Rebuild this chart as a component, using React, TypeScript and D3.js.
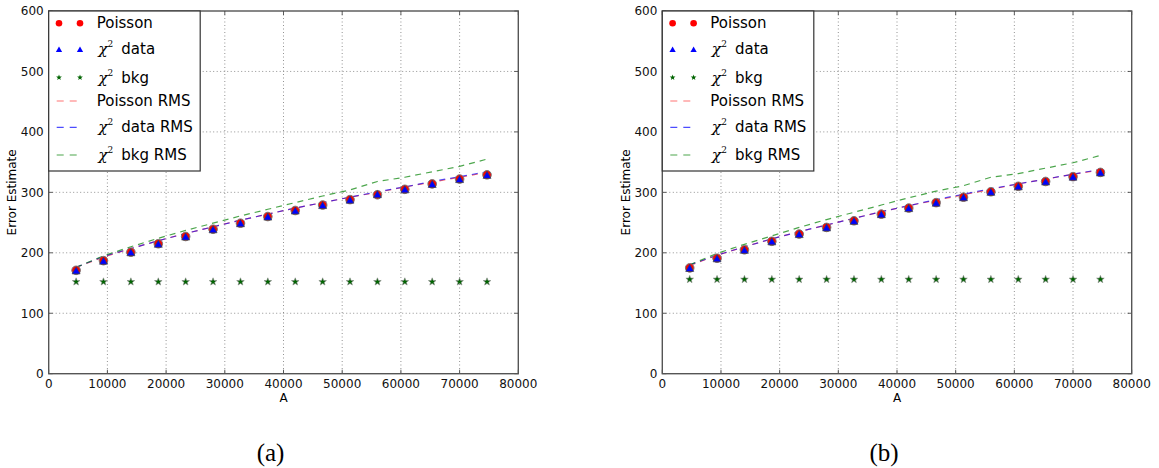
import React from "react";
import * as d3 from "d3";

// ---- data ----
const amplitudes = [4670, 9330, 14000, 18670, 23330, 28000, 32670, 37330, 42000, 46670, 51330, 56000, 60670, 65330, 70000, 74670];

const poissonA = [171, 187, 201, 215, 227, 239, 249, 260, 270, 279, 288, 296, 305, 314, 322, 329];
const chi2DataA = [170, 186, 200, 214, 226, 238, 248, 259, 269, 278, 287, 296, 304, 313, 321, 328];
const chi2BkgA = [152, 152, 152, 152, 152, 152, 152, 152, 152, 152, 152, 152, 152, 152, 152, 152];
const poissonRmsA = [176, 193, 207, 220, 232, 243, 254, 264, 274, 283, 292, 300, 309, 317, 325, 333];
const chi2DataRmsA = [176, 194, 207, 220, 232, 243, 254, 264, 274, 283, 292, 301, 309, 318, 326, 334];
const chi2BkgRmsA = [176, 195, 210, 224, 237, 249, 261, 272, 283, 294, 304, 318, 325, 334, 343, 355];

const poissonB = [175, 191, 205, 219, 231, 242, 253, 264, 274, 283, 292, 301, 310, 318, 326, 333];
const chi2DataB = [174, 190, 204, 218, 230, 241, 252, 263, 273, 282, 291, 300, 309, 317, 325, 332];
const chi2BkgB = [156, 156, 156, 156, 156, 156, 156, 156, 156, 156, 156, 156, 156, 156, 156, 156];
const poissonRmsB = [179, 196, 210, 223, 235, 246, 257, 268, 278, 287, 296, 305, 314, 322, 330, 337];
const chi2DataRmsB = [180, 196, 210, 223, 235, 246, 257, 268, 278, 288, 297, 306, 314, 322, 330, 338];
const chi2BkgRmsB = [180, 199, 214, 228, 242, 255, 267, 279, 291, 302, 311, 325, 331, 340, 349, 361];

const xTicks = [0, 10000, 20000, 30000, 40000, 50000, 60000, 70000, 80000];
const yTicks = [0, 100, 200, 300, 400, 500, 600];
const xLabel = "A";
const yLabel = "Error Estimate";
const captions = ["(a)", "(b)"];

const SANS = "'DejaVu Sans', sans-serif";
const SERIF = "'DejaVu Serif', serif";
const LFS = 15;

type PanelData = {
  poisson: number[];
  chi2Data: number[];
  chi2Bkg: number[];
  poissonRms: number[];
  chi2DataRms: number[];
  chi2BkgRms: number[];
};

const starPath = (cx: number, cy: number, R: number) => {
  const r = R * 0.42;
  const pts: string[] = [];
  for (let i = 0; i < 10; i++) {
    const ang = -Math.PI / 2 + (i * Math.PI) / 5;
    const rad = i % 2 === 0 ? R : r;
    pts.push(`${cx + rad * Math.cos(ang)},${cy + rad * Math.sin(ang)}`);
  }
  return "M" + pts.join("L") + "Z";
};

const triPath = (cx: number, cy: number, s: number) =>
  `M${cx},${cy - s}L${cx + s * 0.95},${cy + s * 0.7}L${cx - s * 0.95},${cy + s * 0.7}Z`;

const Chi2Label: React.FC<{ x: number; y: number; rest: string }> = ({ x, y, rest }) => (
  <text x={x} y={y} fontSize={LFS} fontFamily={SANS} fill="#000">
    <tspan fontFamily={SERIF} fontStyle="italic" fontSize={15.5}>χ</tspan>
    <tspan fontFamily={SERIF} fontSize={9} dy={-7}>2</tspan>
    <tspan dy={7} dx={8}>{rest}</tspan>
  </text>
);

const Panel: React.FC<{ left: number; right: number; top: number; bottom: number; data: PanelData; caption: string }> = ({
  left, right, top, bottom, data, caption,
}) => {
  const x = d3.scaleLinear().domain([0, 80000]).range([left, right]);
  const y = d3.scaleLinear().domain([0, 600]).range([bottom, top]);
  const line = (vals: number[]) =>
    d3.line<number>().x((_, i) => x(amplitudes[i])).y((v) => y(v))(vals) || "";

  const lg = { x0: left, y0: top, w: 151.5, h: 160 };
  const rows = [23.3, 49.3, 77.5, 101, 127.3, 155].map((r) => r - 11 + top);
  const mx1 = left + 10.3, mx2 = left + 31.3, tx = left + 48;

  return (
    <g>
      {/* grid */}
      {xTicks.slice(1, -1).map((t) => (
        <line key={"gx" + t} x1={x(t)} x2={x(t)} y1={top} y2={bottom} stroke="#777" strokeWidth={0.8} strokeDasharray="1,2.5" />
      ))}
      {yTicks.slice(1, -1).map((t) => (
        <line key={"gy" + t} x1={left} x2={right} y1={y(t)} y2={y(t)} stroke="#777" strokeWidth={0.8} strokeDasharray="1,2.5" />
      ))}
      {/* ticks (inside) */}
      {xTicks.map((t) => (
        <g key={"tx" + t}>
          <line x1={x(t)} x2={x(t)} y1={bottom} y2={bottom - 4} stroke="#333" strokeWidth={0.8} />
          <line x1={x(t)} x2={x(t)} y1={top} y2={top + 4} stroke="#333" strokeWidth={0.8} />
          <text x={x(t)} y={bottom + 14} textAnchor="middle" fontSize={12} fontFamily={SANS} fill="#111">{t}</text>
        </g>
      ))}
      {yTicks.map((t) => (
        <g key={"ty" + t}>
          <line x1={left} x2={left + 4} y1={y(t)} y2={y(t)} stroke="#333" strokeWidth={0.8} />
          <line x1={right} x2={right - 4} y1={y(t)} y2={y(t)} stroke="#333" strokeWidth={0.8} />
          <text x={left - 5} y={y(t) + 4.3} textAnchor="end" fontSize={12} fontFamily={SANS} fill="#111">{t}</text>
        </g>
      ))}
      {/* RMS lines */}
      <path d={line(data.poissonRms)} fill="none" stroke="#ff0000" strokeOpacity={0.6} strokeWidth={1.2} strokeDasharray="6,5" />
      <path d={line(data.chi2DataRms)} fill="none" stroke="#0000ff" strokeOpacity={0.65} strokeWidth={1.2} strokeDasharray="6,5" />
      <path d={line(data.chi2BkgRms)} fill="none" stroke="#008000" strokeOpacity={0.7} strokeWidth={1.2} strokeDasharray="6,5" />
      {/* markers */}
      {data.poisson.map((v, i) => (
        <circle key={"p" + i} cx={x(amplitudes[i])} cy={y(v)} r={4.3} fill="#ff0000" stroke="#777" strokeWidth={1} />
      ))}
      {data.chi2Data.map((v, i) => (
        <path key={"d" + i} d={triPath(x(amplitudes[i]), y(v), 4.2)} fill="#0000ff" stroke="#444" strokeWidth={0.7} />
      ))}
      {data.chi2Bkg.map((v, i) => (
        <path key={"b" + i} d={starPath(x(amplitudes[i]), y(v), 4)} fill="#006400" stroke="#888" strokeWidth={0.6} />
      ))}
      {/* frame */}
      <rect x={left} y={top} width={right - left} height={bottom - top} fill="none" stroke="#555" strokeWidth={1.4} />
      {/* legend */}
      <rect x={lg.x0} y={lg.y0} width={lg.w} height={lg.h} fill="#fff" stroke="#333" strokeWidth={1.2} />
      <circle cx={mx1} cy={rows[0]} r={3.3} fill="#ff0000" />
      <circle cx={mx2} cy={rows[0]} r={3.3} fill="#ff0000" />
      <text x={tx} y={rows[0] + 5} fontSize={LFS} fontFamily={SANS}>Poisson</text>
      <path d={triPath(mx1, rows[1] + 0.5, 3.3)} fill="#0000ff" />
      <path d={triPath(mx2, rows[1] + 0.5, 3.3)} fill="#0000ff" />
      <Chi2Label x={tx + 1.5} y={rows[1] + 5} rest="data" />
      <path d={starPath(mx1, rows[2], 3)} fill="#006400" />
      <path d={starPath(mx2, rows[2], 3)} fill="#006400" />
      <Chi2Label x={tx + 1.5} y={rows[2] + 5} rest="bkg" />
      <line x1={left + 8} x2={left + 30} y1={rows[3]} y2={rows[3]} stroke="#ff0000" strokeOpacity={0.55} strokeWidth={1.2} strokeDasharray="7,6" />
      <text x={tx} y={rows[3] + 5} fontSize={LFS} fontFamily={SANS}>Poisson RMS</text>
      <line x1={left + 8} x2={left + 30} y1={rows[4]} y2={rows[4]} stroke="#0000ff" strokeOpacity={0.7} strokeWidth={1.2} strokeDasharray="7,6" />
      <Chi2Label x={tx + 1.5} y={rows[4] + 5} rest="data RMS" />
      <line x1={left + 8} x2={left + 30} y1={rows[5]} y2={rows[5]} stroke="#008000" strokeOpacity={0.7} strokeWidth={1.2} strokeDasharray="7,6" />
      <Chi2Label x={tx + 1.5} y={rows[5] + 5} rest="bkg RMS" />
      {/* axis labels */}
      <text x={(left + right) / 2} y={bottom + 28.5} textAnchor="middle" fontSize={12} fontFamily={SANS}>{xLabel}</text>
      <text transform={`translate(${left - 32.5},${(top + bottom) / 2}) rotate(-90)`} textAnchor="middle" fontSize={12} fontFamily={SANS}>{yLabel}</text>
      {/* caption */}
      <text x={(left + right) / 2 - 13} y={461} textAnchor="middle" fontSize={25} fontFamily="'Liberation Serif', serif">{caption}</text>
    </g>
  );
};

export default function App() {
  const dA: PanelData = { poisson: poissonA, chi2Data: chi2DataA, chi2Bkg: chi2BkgA, poissonRms: poissonRmsA, chi2DataRms: chi2DataRmsA, chi2BkgRms: chi2BkgRmsA };
  const dB: PanelData = { poisson: poissonB, chi2Data: chi2DataB, chi2Bkg: chi2BkgB, poissonRms: poissonRmsB, chi2DataRms: chi2DataRmsB, chi2BkgRms: chi2BkgRmsB };
  return (
    <svg width={1159} height={468} style={{ position: "absolute", left: 0, top: 0, background: "#fff" }}>
      <rect width={1159} height={468} fill="#fff" />
      <Panel left={48.7} right={518.3} top={11} bottom={373.7} data={dA} caption={captions[0]} />
      <Panel left={662.3} right={1131.7} top={11} bottom={373.7} data={dB} caption={captions[1]} />
    </svg>
  );
}
